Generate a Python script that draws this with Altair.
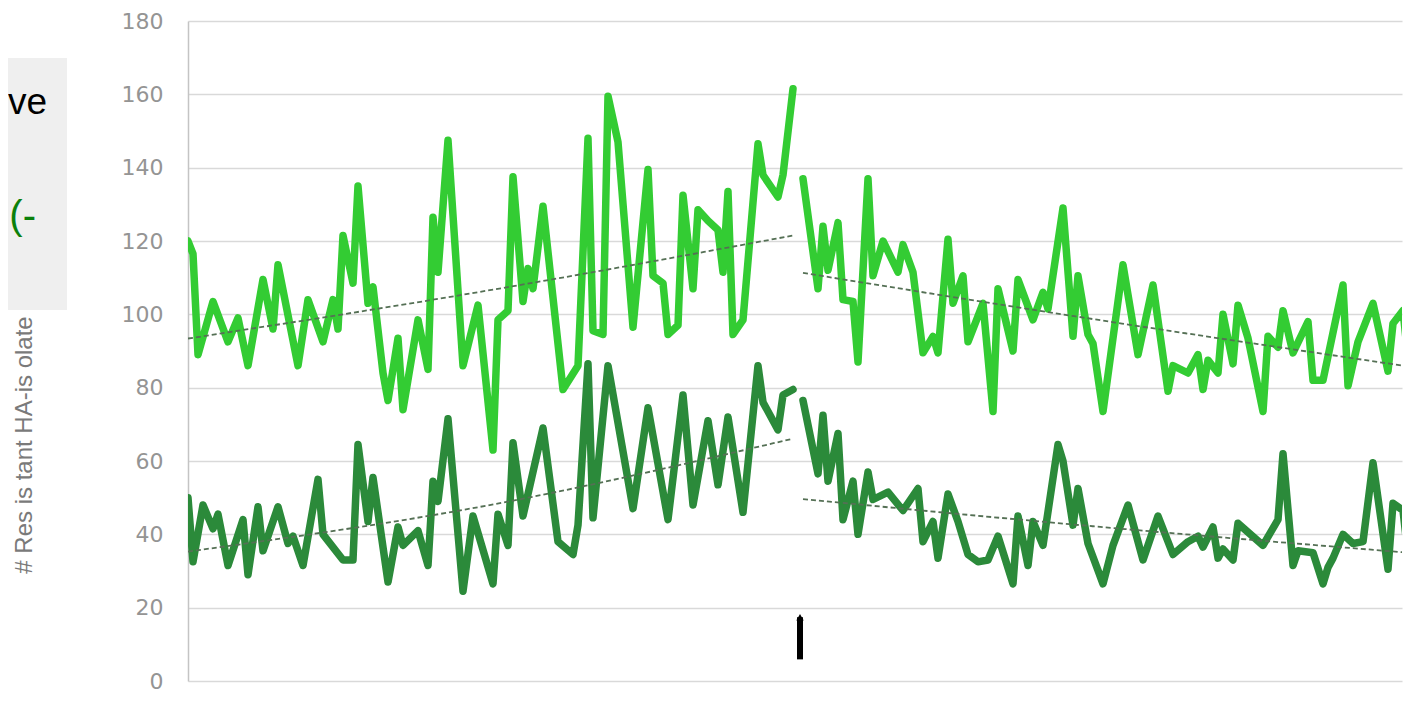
import altair as alt
import pandas as pd

# ---- data (x = sample index, y = count) ----
light1_x = [0,1,2,5,8,10,12,15,17,18,22,24,27,29,30,31,33,34,36,37,39,40,42,43,46,48,49,50,52,55,58,61,62,64,65,67,68,69,71,75,78,80,81,83,84,86,89,92,93,95,96,98,99,101,102,104,106,107,108,109,111,114,115,118,119,121]
light1_y = [120,116.5,89,103.5,92.5,99,86,109.5,96,113.5,86,104,92.5,104,96,121.5,108.5,135,103,107.5,84,76.5,93.5,74,98.5,85,126.5,111.5,147.5,86,102.5,63,98.5,101,137.5,103.5,112.5,107,129.5,79.5,86,148,95.5,94.5,159.5,147,96.5,139.5,110.5,108.5,94.5,97,132.5,107,128.5,125.5,123,111.5,133.5,94.5,98.5,146.5,138,132,138,161.5]

light2_x = [123,126,127,128,130,131,133,134,136,137,139,142,143,145,147,149,150,152,153,155,156,159,161,162,165,166,169,171,172,175,177,178,180,181,183,187,190,193,196,197,200,202,203,204,206,207,209,210,212,215,216,218,219,221,224,225,227,231,232,234,237,240,241,243,244]
light2_y = [137,107,124,112,125,104,103.5,87,137,110.5,120,111.5,119,111.5,89.5,94,89.5,120.5,103,110.5,92.5,103,73.5,107,90,109.5,98.5,106,101.5,129,94,110.5,94.5,92,73.5,113.5,89,108,79,86,84,89,79.5,87.5,84,100,86.5,102.5,93.5,73.5,94,91,101,89.5,98,82,82,108,80.5,92.5,103,84.5,97.5,101,88]

dark1_x = [0,1,3,5,6,8,11,12,14,15,18,20,21,23,26,27,31,33,34,36,37,40,42,43,46,48,49,50,52,55,57,61,62,64,65,67,71,74,77,78,80,81,84,89,92,96,99,101,104,106,108,111,114,115,118,119,121]
dark1_y = [50,32.5,48,41.5,45.5,31.5,44,29,47.5,35.5,47.5,37.5,39.5,31.5,55,40,33,33,64.5,43.5,55.5,27,42,37,41,31.5,54.5,49,71.5,24.5,45,26.5,45.5,37,65,45,69,38,34.5,42.5,86.5,44.5,86,47,74.5,44,78,48,71,53.5,72,46,86,76,68.5,78,79.5]

dark2_x = [123,126,127,128,130,131,133,134,136,137,140,143,146,147,149,150,152,154,156,158,160,162,165,166,168,169,171,174,175,177,178,180,183,185,188,191,194,197,200,202,203,205,206,207,209,210,215,218,219,221,222,225,227,228,229,231,233,235,237,240,241,243,244]
dark2_y = [76.5,56.5,72.5,54.5,67.5,44,54.5,40,57,49.5,51.5,46.5,52.5,38,43.5,33.5,51,43.5,34.5,32.5,33,39.5,26.5,45,31.5,43.5,37,64.5,60,42.5,52.5,37.5,26.5,37,48,33,45,34.5,38,39.5,36.5,42,33.5,36,33,43,37,44,62,31.5,35.5,35,26.5,31,33.5,40,37.5,38,59.5,30.5,48.5,46.5,34.5]

# trend lines (read at start / middle / end of each segment)
trend_light1_x = [0, 60, 121];   trend_light1_y = [93.4, 106.5, 121.5]
trend_light2_x = [123, 181, 244]; trend_light2_y = [111.3, 98.7, 85.8]
trend_dark1_x = [0, 60, 121];    trend_dark1_y = [35.3, 47.9, 66.1]
trend_dark2_x = [123, 181, 244];  trend_dark2_y = [49.6, 42.2, 35.0]

y_ticks = [0, 20, 40, 60, 80, 100, 120, 140, 160, 180]
axis_title = "# Res is tant HA-is olate"
box_text_1 = "ve"
box_text_2 = "(-"
break_x = [122.4]
break_y = [5.9]
break_y2 = [17.4]

# ---- tables ----
def seg(xs, ys, series, segname):
    return pd.DataFrame({"x": xs, "y": ys, "series": series, "seg": segname})

lines = pd.concat([
    seg(light1_x, light1_y, "light", "l1"),
    seg(light2_x, light2_y, "light", "l2"),
    seg(dark1_x, dark1_y, "dark", "d1"),
    seg(dark2_x, dark2_y, "dark", "d2"),
])
trends = pd.concat([
    seg(trend_light1_x, trend_light1_y, "light", "l1"),
    seg(trend_light2_x, trend_light2_y, "light", "l2"),
    seg(trend_dark1_x, trend_dark1_y, "dark", "d1"),
    seg(trend_dark2_x, trend_dark2_y, "dark", "d2"),
])

x_enc = alt.X("x:Q", scale=alt.Scale(domain=[0, 242.8], nice=False, zero=False), axis=None)
y_axis = alt.Axis(values=y_ticks, grid=True, gridColor="#d9d9d9", gridWidth=1.5,
                  domain=True, domainColor="#c4c4c4", domainWidth=1.5, ticks=False,
                  labelPadding=25, labelFont="DejaVu Sans", labelFontSize=22,
                  labelColor="#949494", title=None)
y_enc = alt.Y("y:Q", scale=alt.Scale(domain=[0, 180], nice=False), axis=y_axis)

data_lines = alt.Chart(lines).mark_line(strokeWidth=7.5, strokeJoin="round", strokeCap="round", clip=True).encode(
    x=x_enc, y=y_enc,
    color=alt.Color("series:N", scale=alt.Scale(domain=["light", "dark"], range=["#33cc33", "#2b8a3a"]), legend=None),
    detail="seg:N",
)

trend_lines = alt.Chart(trends).mark_line(strokeWidth=1.8, strokeDash=[5, 3], color="#557055",
                                          interpolate="monotone", clip=True).encode(
    x=x_enc, y=y_enc, detail="seg:N",
)

brk = pd.DataFrame({"x": break_x, "y": break_y, "y2": break_y2})
break_rule = alt.Chart(brk).mark_rule(strokeWidth=6, color="black").encode(x=x_enc, y=y_enc, y2="y2:Q")
break_cap = alt.Chart(brk).mark_point(shape="triangle-up", filled=True, size=55, color="black", opacity=1).encode(
    x=x_enc, y=alt.Y("y2:Q", scale=alt.Scale(domain=[0, 180], nice=False), axis=y_axis))

one = pd.DataFrame({"k": [0]})
box = alt.Chart(one).mark_rect(color="#efefef").encode(
    x=alt.value(-180), x2=alt.value(-121), y=alt.value(37), y2=alt.value(289))
t1 = alt.Chart(pd.DataFrame({"t": [box_text_1]})).mark_text(
    font="Liberation Sans", fontSize=37, color="#000000", align="right", baseline="alphabetic").encode(
    text="t:N", x=alt.value(-141), y=alt.value(93))
t2 = alt.Chart(pd.DataFrame({"t": [box_text_2]})).mark_text(
    font="Liberation Sans", fontSize=40, color="#0b800b", align="right", baseline="alphabetic").encode(
    text="t:N", x=alt.value(-152), y=alt.value(208))
ytitle = alt.Chart(pd.DataFrame({"t": [axis_title]})).mark_text(
    font="Liberation Sans", fontSize=24, color="#7a7a7a", angle=270, align="center", baseline="middle").encode(
    text="t:N", x=alt.value(-163), y=alt.value(424))

chart = alt.layer(data_lines, trend_lines, break_rule, break_cap, box, t1, t2, ytitle).properties(
    width=1214, height=660,
    padding={"left": 180, "top": 13, "right": 2, "bottom": 13},
    autosize=alt.AutoSizeParams(type="none"),
).configure_view(stroke="transparent")

chart.save("out.html", embed_options={"renderer": "svg", "actions": False})
